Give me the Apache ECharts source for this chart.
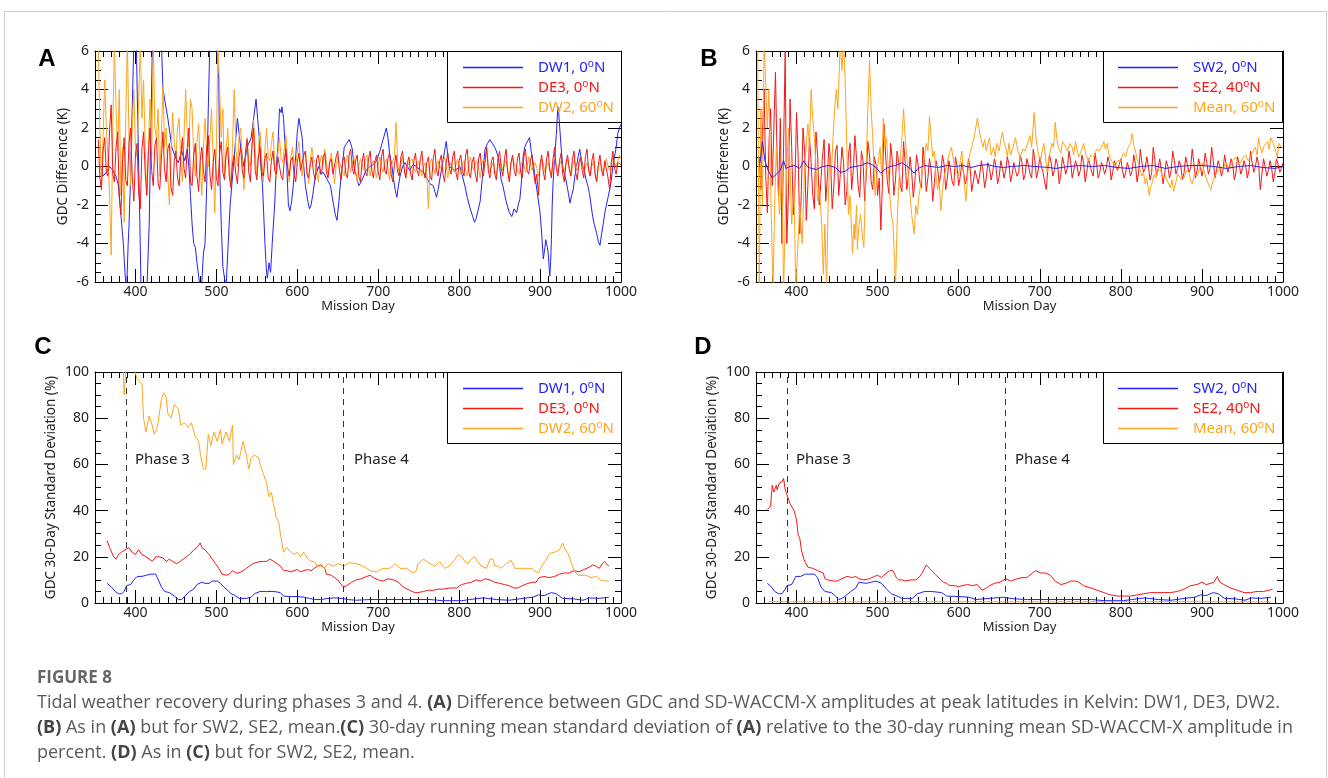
<!DOCTYPE html>
<html>
<head>
<meta charset="utf-8">
<script src="https://cdn.jsdelivr.net/npm/echarts@6/dist/echarts.min.js"></script>
<style>
html, body { margin: 0; padding: 0; background: #fff; }
#chart { width: 1328px; height: 778px; }
</style>
</head>
<body>
<div id="chart"></div>
<script>
// evenly sampled difference series start at day 354, one value every 2 days
var daysStart = 354, daysStep = 2;

// panel A: GDC minus SD-WACCM-X (K)
var diffDE3 = [
	1.4, -0.6, -1.2, 0.8, 1.5, -0.3, -0.5, 1.9, 3.2, -0.4,
	-0.8, 1.0, 1.8, -1.6, -2.5, 0.2, 1.5, -0.7, -1.0, 1.2,
	2.0, -0.5, -1.8, 0.6, 1.2, -1.4, -2.2, 0.9, 1.8, -0.3,
	-1.5, 0.7, 2.0, -0.2, -1.0, 1.1, 1.5, -0.9, -1.2, 0.4,
	1.8, -0.2, -0.8, 0.9, 1.2, -1.1, -1.5, 0.3, 0.8, -0.6,
	-1.0, 0.5, 1.5, -0.1, -0.6, 1.0, 2.0, -0.8, -1.0, 0.6,
	1.2, -0.5, -1.3, 0.3, 1.0, -0.2, -0.8, 0.9, 1.6, -0.4,
	-1.2, 0.2, 0.9, -0.6, -1.0, 0.7, 1.3, -0.3, -0.7, 0.6,
	1.0, -0.5, -1.1, 0.2, 0.6, -0.4, -0.9, 0.5, 1.0, -0.2,
	-0.6, 0.8, 1.4, -0.3, -0.8, 1.1, 2.0, -0.2, -0.7, 0.5,
	1.0, -0.3, -0.5, 0.4, 0.7, -0.6, -0.8, 0.3, 0.8, -0.2,
	-0.4, 0.5, 0.6, -0.5, -0.7, 0.4, 0.9, -0.1, -0.5, 0.3,
	0.5, -0.4, -0.8, 0.2, 0.7, -0.2, -0.3, 0.6, 0.8, -0.4,
	-0.6, 0.1, 0.5, -0.3, -0.7, 0.4, 0.6, -0.1, -0.4, 0.5,
	0.7, -0.3, -0.6, 0.2, 0.4, -0.4, -0.5, 0.5, 0.8, -0.2,
	-0.7, 0.3, 0.5, -0.4, -0.6, 0.6, 0.9, -0.1, -0.4, 0.3,
	0.6, -0.5, -0.8, 0.2, 0.7, -0.3, -0.5, 0.4, 0.8, -0.2,
	-0.6, 0.3, 0.6, -0.3, -0.7, 0.5, 0.9, -0.2, -0.4, 0.4,
	0.7, -0.4, -0.8, 0.1, 0.6, -0.3, -0.5, 0.5, 0.8, -0.1,
	-0.6, 0.2, 0.5, -0.4, -0.7, 0.3, 0.7, -0.2, -0.5, 0.4,
	0.8, -0.3, -0.6, 0.2, 0.5, -0.5, -0.7, 0.4, 0.9, -0.2,
	-0.5, 0.3, 0.6, -0.4, -0.8, 0.2, 0.7, -0.1, -0.4, 0.5,
	0.8, -0.3, -0.7, 0.3, 0.6, -0.2, -0.5, 0.6, 0.9, -0.3,
	-0.6, 0.2, 0.5, -0.4, -0.8, 0.4, 0.7, -0.2, -0.5, 0.3,
	1.0, -0.2, -0.6, 0.3, 0.5, -0.4, -0.7, 0.4, 0.8, -0.1,
	-0.5, 0.4, 0.9, -0.3, -0.8, 0.2, 0.6, -0.2, -0.5, 0.4,
	0.7, -0.3, -0.6, 0.5, 0.9, -0.2, -0.4, 0.3, 0.6, -0.3,
	-0.9, -0.4, -1.5, 0.1, 0.6, -0.3, -0.7, 0.4, 0.8, -0.2,
	-0.6, 0.4, 1.0, -0.1, -0.5, 0.3, 0.7, -0.4, -0.8, 0.2,
	0.6, -0.1, -0.5, 0.4, 0.8, -0.3, -0.7, 0.2, 0.5, -0.2,
	-0.6, 0.5, 0.9, -0.2, -0.5, 0.3, 0.7, -0.4, -0.8, 0.1,
	0.6, -0.2, -0.5, 0.3, 0.4, -0.6, -1.2, 0.2, 0.8, -0.1,
	-0.4, 0.2, 0.3, 0.1];
var diffDW2 = [
	6.5, 2.0, -1.0, 1.5, 4.5, 2.0, 0.5, -1.5, -4.6, 2.0,
	6.5, 3.0, 0.8, 4.0, -1.5, 1.0, -2.9, 2.5, 6.5, 1.5,
	-1.0, 2.0, 4.0, 1.0, 0.5, 3.5, 6.5, 2.5, 4.5, 1.0,
	-1.5, 1.0, 3.5, 0.5, 6.5, 2.0, 1.5, 3.0, -0.5, 1.5,
	4.2, 1.0, 2.0, -0.5, -2.0, 0.8, 2.8, 1.2, 0.5, 2.0,
	2.5, 0.3, -0.8, 1.5, 4.0, 1.8, 1.0, 3.5, 3.0, 0.5,
	-0.5, 1.2, 2.2, 0.2, -1.5, 1.0, 2.5, 0.8, 0.0, 1.5,
	3.0, 0.5, -2.4, 1.0, 6.5, 6.5, 1.5, 3.0, -0.5, 0.8,
	2.0, 0.2, -1.0, 1.2, 4.0, 1.0, 0.0, 1.5, 2.0, 0.4,
	-1.2, 0.6, 1.5, 0.3, 0.0, 1.2, 2.4, 0.8, -0.5, 1.0,
	1.8, 0.4, -0.8, 0.9, 2.0, 0.5, 0.3, 1.2, 1.8, 0.2,
	-0.6, 0.7, 1.5, 0.4, 0.2, 1.0, 1.6, 0.3, -0.8, 0.5,
	1.0, 0.2, 0.0, 0.8, 1.3, 0.1, -0.5, 0.6, 0.8, -0.2,
	-0.9, 0.3, 1.0, 0.4, 0.2, -0.3, -0.8, 0.2, 0.6, 0.1,
	0.9, 0.2, -0.4, 0.3, 0.7, -0.1, -0.9, 0.1, 0.5, 0.2,
	0.2, -0.3, -0.5, 0.2, 0.6, 0.1, -0.3, 0.2, 0.5, -0.2,
	-0.8, 0.0, 0.4, 0.1, -0.2, 0.3, 0.6, -0.1, -0.5, 0.1,
	0.3, -0.2, -0.6, 0.1, 0.5, 0.0, -0.3, 0.2, 0.4, -0.1,
	-0.7, 0.0, 0.3, 0.5, 2.3, 0.2, -0.4, 0.1, 0.5, -0.1,
	-0.6, 0.0, 0.2, 0.3, 0.4, -0.1, -0.3, 0.1, 0.3, -0.2,
	-0.5, 0.0, 0.2, -0.4, -2.2, 0.1, 0.4, 0.0, -0.4, 0.1,
	0.3, -0.1, -0.2, 0.2, 0.5, 0.0, -0.6, 0.0, 0.2, -0.1,
	-0.3, 0.1, 0.4, 0.0, -0.4, 0.1, 0.3, -0.2, -0.5, 0.1,
	0.5, 0.0, -0.2, 0.1, 0.3, -0.1, -0.6, 0.1, 0.4, 0.2,
	0.9, 0.1, -0.3, 0.0, 0.2, -0.2, -0.5, 0.0, 0.4, 0.1,
	-0.2, 0.1, 0.3, -0.2, -0.6, 0.1, 0.5, 0.2, 0.0, -0.1,
	-0.4, 0.0, 0.3, 0.1, -0.3, 0.0, 0.5, 0.1, -0.2, 0.0,
	0.2, -0.1, -0.5, 0.0, 0.4, 0.1, -0.3, 0.0, 0.2, -0.1,
	-0.4, 0.1, 0.5, 0.0, -0.3, 0.1, 0.3, 0.0, -0.2, 0.1,
	0.4, -0.1, -0.5, 0.0, 0.3, 0.1, -0.2, 0.0, 0.4, 0.1,
	-0.3, 0.0, 0.2, 0.1, -0.4, 0.0, 0.3, -0.2, -0.8, 0.0,
	0.2, 0.0, -0.3, 0.1, 0.4, 0.0, -0.2, 0.1, 0.5, 0.2,
	0.0, 0.3, 0.6, 0.4];
var diffDW1 = [[357,0.0],[360,-0.5],[364,-0.3],[368,0.0],[372,-0.2],[376,-0.5],[379,-1.0],[382,-2.5],[385,-4.0],[387,-5.5],[389,-6.5],[391,-4.0],[392,-3.1],[394,-0.5],[396,3.0],[398,6.5],[401,6.5],[403,2.0],[405,-2.0],[407,-6.5],[414,-6.5],[417,-3.0],[419,2.0],[421,6.5],[432,6.5],[434,4.0],[436,3.5],[440,2.5],[445,1.0],[449,0.5],[453,0.2],[457,0.8],[461,0.3],[464,0.9],[466,0.0],[468,-1.5],[470,-3.0],[472,-4.0],[474,-4.2],[476,-5.0],[479,-6.0],[481,-6.5],[482,-6.0],[484,-4.5],[486,-4.0],[488,-1.0],[490,3.0],[492,6.5],[500,6.5],[502,5.0],[503,4.5],[504,0.0],[506,-3.0],[508,-5.2],[510,-5.8],[512,-6.3],[514,-4.5],[517,-2.0],[521,0.0],[524,1.5],[526,2.5],[530,1.0],[534,0.0],[538,1.0],[543,1.5],[546,2.5],[549,3.5],[551,2.5],[553,1.5],[555,0.0],[557,-1.0],[560,-4.0],[562,-5.5],[563,-5.8],[565,-5.0],[567,-5.5],[569,-4.0],[572,-2.0],[574,0.0],[576,1.0],[578,3.0],[580,2.8],[581,3.1],[583,2.5],[585,1.0],[587,0.0],[589,-2.0],[591,-2.3],[593,-1.8],[595,-1.0],[598,0.5],[600,1.8],[602,2.5],[604,2.0],[606,1.5],[608,0.0],[610,-1.0],[613,-1.8],[615,-2.2],[617,-2.0],[619,-1.5],[622,-0.6],[626,0.0],[629,-0.4],[632,-0.3],[636,-0.6],[641,-1.0],[644,-1.8],[647,-2.5],[649,-2.8],[651,-2.0],[653,-1.0],[656,0.2],[658,1.0],[661,1.2],[664,1.4],[666,1.2],[668,0.9],[670,0.0],[673,-0.5],[676,-1.0],[679,-0.8],[682,-0.5],[685,-0.2],[690,0.0],[694,0.1],[698,0.3],[702,0.8],[706,1.4],[710,2.0],[712,1.5],[714,0.7],[717,0.0],[719,-0.7],[721,-1.2],[723,-1.6],[725,-1.0],[727,-0.5],[730,0.0],[733,0.2],[736,0.0],[739,-0.2],[743,0.1],[747,0.0],[752,-0.2],[756,-0.3],[760,-0.6],[764,-0.9],[768,-1.0],[770,-1.3],[772,-1.6],[774,-1.2],[776,-0.7],[778,-0.2],[780,0.3],[782,0.8],[784,1.3],[786,0.6],[788,0.0],[791,-0.1],[795,-0.2],[801,0.0],[804,-0.5],[807,-1.0],[810,-1.6],[813,-2.1],[816,-2.5],[819,-2.9],[821,-2.7],[823,-2.6],[826,-1.8],[828,-0.9],[830,0.0],[832,0.9],[835,1.2],[838,1.4],[841,1.2],[844,1.0],[846,0.8],[848,0.5],[850,0.0],[852,-0.7],[854,-1.0],[856,-1.4],[858,-1.8],[860,-2.1],[862,-2.4],[865,-2.6],[868,-2.2],[871,-2.4],[873,-2.0],[875,-1.7],[877,-0.8],[879,0.5],[881,1.0],[883,1.2],[885,1.3],[887,1.5],[889,0.8],[891,0.3],[893,-0.3],[895,-0.9],[897,-1.5],[900,-2.4],[902,-3.5],[904,-4.8],[906,-4.2],[907,-3.8],[909,-4.2],[910,-4.5],[912,-5.7],[913,-5.0],[914,-3.8],[915,-2.0],[916,-0.9],[918,0.5],[920,1.6],[922,3.1],[923,2.8],[924,2.2],[926,1.0],[928,0.0],[930,-0.4],[932,-0.7],[935,-1.4],[937,-1.9],[939,-1.5],[941,-1.2],[943,-0.5],[945,0.0],[947,0.5],[949,0.9],[951,0.4],[953,0.0],[955,-0.3],[957,-0.7],[959,-1.0],[961,-1.4],[963,-2.0],[965,-2.6],[967,-3.0],[970,-3.5],[972,-3.9],[974,-4.1],[976,-3.5],[978,-3.0],[980,-2.4],[982,-2.0],[984,-1.6],[986,-1.2],[988,-0.7],[990,0.0],[992,0.5],[994,1.0],[996,1.7],[998,2.0],[1000,2.2]];

// panel B
var diffSE2 = [
	0.5, -1.2, 1.8, 4.0, -0.5, -2.4, 1.2, 3.0, -1.0, 2.0,
	4.9, 0.5, -1.5, 2.5, -4.0, 1.0, 6.0, -4.0, -1.5, 3.5,
	1.0, -2.5, -1.0, 2.8, 0.5, -3.5, -1.2, 2.0, 0.8, -2.8,
	-1.0, 1.5, 0.2, -1.5, -2.2, 1.8, 0.6, -2.0, -0.8, 0.5,
	1.4, -1.8, -0.6, 1.2, 0.3, -2.2, -1.0, 0.8, 1.1, -1.5,
	-0.4, 1.0, 0.2, -2.0, -1.3, 0.6, 1.2, -1.2, -0.2, 1.6,
	0.4, -1.0, -1.6, 0.8, 0.3, -1.8, -0.5, 1.3, 0.6, -0.8,
	-1.2, 0.5, 0.1, -1.5, -0.6, -3.3, -0.8, 2.2, 0.5, -0.8,
	-1.4, 1.2, 0.4, -1.5, -0.7, 0.8, 0.2, -1.0, -1.3, 1.3,
	0.2, -1.2, -0.5, 0.5, -0.3, -1.6, -0.8, 0.6, 0.1, -0.8,
	-1.1, 1.0, 0.2, -1.3, -0.6, 0.4, -0.2, -1.8, -0.9, 0.3,
	-0.1, -0.9, -0.4, 0.6, 0.1, -1.2, -0.6, 0.3, -0.2, -0.8,
	-1.0, 0.5, 0.0, -1.0, -0.5, 0.2, -0.3, -0.9, -0.6, 0.4,
	0.0, -1.3, -0.8, -0.2, -0.5, -0.9, -0.4, 0.3, -0.2, -1.1,
	-0.6, 0.2, -0.1, -0.7, -0.3, 0.4, 0.0, -0.9, -0.5, 0.3,
	-0.1, -0.6, -0.2, 0.5, 0.1, -0.8, -0.4, 0.2, -0.2, -0.5,
	-0.3, 0.6, 0.2, -0.7, -0.4, 0.4, 0.1, -0.4, -0.6, 0.9,
	0.3, -0.6, -0.2, 0.5, 0.0, -0.3, -0.8, -1.2, -0.1, 0.6,
	0.2, -0.5, -0.2, 0.4, 0.1, -0.9, -0.4, 0.5, 0.1, -0.4,
	-0.1, 0.8, 0.3, -0.6, -0.2, 0.3, 0.0, -0.5, -0.2, 0.6,
	0.2, -0.8, -0.3, 0.4, 0.1, -0.3, -0.5, 0.7, 0.2, -0.6,
	-0.3, 0.2, 0.0, -0.4, -0.1, 0.5, 0.2, -0.7, -0.3, 0.3,
	0.0, -0.2, 0.1, 0.4, -0.2, -0.6, -0.3, 0.2, -0.1, -0.5,
	-0.2, 0.6, 0.1, -0.8, -0.3, 0.9, 0.2, -0.3, -0.1, 0.5,
	0.0, -0.7, -0.3, 1.0, 0.3, -0.5, -0.1, 0.4, -0.2, -0.9,
	-0.4, 0.3, 0.0, -0.6, -0.2, 0.8, 0.3, -0.4, -0.1, 0.3,
	0.0, -0.7, -0.3, 0.5, 0.1, -0.3, -0.1, 0.9, 0.2, -0.6,
	-0.2, 0.4, 0.0, -0.5, -0.1, 0.7, 0.2, -0.4, -0.1, 1.0,
	0.3, -0.6, -0.2, 0.3, 0.0, -0.5, -0.2, 0.6, 0.1, -0.3,
	0.0, 0.4, 0.1, -0.7, -0.3, 0.5, 0.1, -0.4, -0.1, 0.3,
	0.0, -0.6, -0.2, 0.8, 0.2, -0.3, 0.0, 0.5, 0.1, -1.2,
	-0.4, 0.4, 0.0, -0.5, -0.2, 0.3, -0.1, -0.8, -0.3, 0.4,
	0.1, -0.3, -0.1, 0.2];
var diffSW2 = [[355,0.2],[358,1.3],[361,0.3],[365,-0.2],[370,-0.6],[375,-0.4],[380,-0.2],[384,0.3],[387,-0.1],[392,0.0],[398,0.05],[404,-0.1],[409,0.3],[413,0.0],[418,-0.1],[425,-0.15],[432,0.0],[440,0.05],[448,-0.05],[454,-0.3],[460,-0.25],[466,-0.05],[472,0.0],[480,0.05],[487,0.2],[493,0.1],[499,-0.1],[504,-0.35],[509,-0.15],[515,0.0],[522,0.05],[530,0.2],[535,0.05],[540,-0.1],[545,-0.35],[550,-0.1],[558,0.05],[566,0.0],[575,-0.05],[585,0.05],[595,0.0],[605,0.05],[615,-0.05],[625,0.05],[635,0.1],[645,0.0],[655,-0.05],[665,0.0],[680,0.05],[695,0.0],[710,-0.05],[720,-0.1],[735,0.0],[750,0.05],[765,0.0],[780,0.05],[795,-0.05],[810,-0.1],[825,0.0],[840,0.05],[855,-0.1],[870,0.0],[885,0.05],[900,0.05],[915,0.0],[930,-0.1],[945,0.0],[960,0.05],[975,-0.05],[990,-0.1],[1000,0.0]];
var diffMean = [[352,6.5],[354,-6.5],[356,3],[358,-2],[360,6.5],[362,6.5],[364,2],[366,4],[368,-1],[371,-6.5],[373,-2],[375,1],[377,-1],[379,-2.5],[382,0],[384,-6.5],[387,-1],[390,2],[392,0],[394,-3],[397,-1],[399,-6.5],[401,-6.5],[404,-2],[407,-4],[410,0],[414,2.2],[416,1],[418,4.0],[420,2.5],[422,1.5],[424,0],[426,-1.8],[428,-1],[431,-3],[433,-5.6],[435,-3],[437,-6.5],[439,-2],[441,0.5],[443,-0.5],[445,1.5],[447,3],[449,4.0],[451,3],[454,6.5],[456,5],[458,6.5],[460,4.5],[462,1],[464,-2.5],[466,-1.5],[469,-4.5],[471,-3],[472,-3.8],[474,-2],[475,-4.3],[477,-3],[479,-2.5],[481,-3.5],[483,-4.2],[485,-1],[488,3],[490,5.5],[492,3],[494,1.5],[497,-1.5],[500,0],[503,1],[505,-0.5],[507,2.5],[509,1],[511,1.5],[513,0],[515,-1.5],[517,-2.5],[519,-3],[521,-5],[522,-6.5],[524,-3],[526,-1],[528,0.5],[530,1.5],[532,3],[534,1.5],[536,0.5],[538,-0.5],[540,-1.5],[542,-2.5],[545,-3.5],[547,-2],[549,-2.5],[551,-1.5],[553,-1],[555,-0.2],[558,0.5],[560,1.2],[562,0.8],[564,2.6],[566,1.5],[568,0.5],[570,0.8],[572,-0.5],[574,-1.2],[576,-0.8],[578,-2.3],[580,-1.2],[582,-0.5],[585,0],[588,0.6],[591,1],[594,0.2],[597,-0.3],[600,-0.5],[602,0.3],[604,0.8],[606,-0.5],[609,-1.8],[611,-0.5],[613,0.5],[616,1.0],[619,1.5],[621,2.0],[623,2.5],[625,2.0],[627,1.5],[630,1.0],[632,1.4],[634,0.8],[636,1.2],[638,1.5],[640,0.6],[643,1.0],[645,0.5],[647,1.2],[650,0.8],[652,1.4],[654,1.8],[656,1.2],[658,1.0],[660,0.5],[662,1.2],[664,0.6],[667,1.0],[670,1.5],[673,0.8],[676,0.5],[679,0.9],[682,0.8],[685,1.2],[688,1.6],[690,1.0],[693,2.8],[695,1.6],[697,1.0],[699,0.5],[701,0.3],[703,0.8],[705,1.2],[707,0.5],[709,-0.3],[711,0.4],[713,0.5],[715,1.2],[717,1.0],[719,2.3],[721,1.5],[723,1.0],[726,0.7],[728,1.3],[731,1.1],[734,0.8],[737,1.2],[740,1.0],[742,0.6],[744,1.3],[746,0.9],[748,0.5],[751,0.8],[754,1.2],[757,0.6],[760,0.3],[763,0.6],[767,0.5],[770,0.9],[773,0.8],[776,1.0],[779,1.3],[781,0.9],[783,1.2],[785,0.7],[787,0.4],[790,0.2],[793,0.0],[796,0.3],[800,0.3],[803,0.7],[806,0.5],[808,0.9],[810,0.8],[812,1.2],[814,1.7],[816,1.1],[818,0.8],[820,0.4],[822,0.1],[824,-0.2],[826,-0.5],[828,-0.3],[830,-0.9],[832,-0.6],[835,-1.5],[837,-1.0],[839,-0.8],[841,-0.4],[843,-0.6],[846,-0.2],[849,-0.2],[852,-0.6],[855,-0.5],[858,-0.8],[861,-1.1],[863,-0.7],[865,-1.3],[868,-0.8],[870,-0.4],[872,-0.4],[875,-0.7],[878,-0.6],[881,-0.2],[884,-0.3],[886,-0.7],[888,-0.9],[891,-0.4],[894,-0.5],[897,-0.1],[900,0.2],[903,-0.3],[907,-0.8],[909,-1.0],[911,-1.2],[914,-0.7],[917,-0.4],[920,-0.2],[923,0.0],[926,-0.2],[929,0.2],[932,0.0],[935,-0.1],[938,0.3],[942,0.5],[945,0.1],[948,0.2],[951,0.5],[954,0.6],[957,0.3],[960,0.5],[963,0.8],[966,1.0],[968,0.6],[970,1.5],[972,1.0],[974,0.7],[977,1.1],[981,1.3],[983,0.9],[985,1.5],[988,1.2],[991,0.8],[993,0.5],[995,1.2],[998,1.0],[1000,1.0]];

// panel C: 30-day standard deviation (%)
var stdDW1 = [[365,8.5],[370,7],[375,5],[379,4],[383,4],[386,5],[389,7.5],[394,8],[398,10],[402,11.5],[408,11.5],[413,12],[419,12.5],[425,12.5],[427,11],[432,7],[436,5],[442,4.5],[448,3],[453,1.5],[457,1.5],[461,3],[467,5],[472,6],[476,8],[482,9],[486,8.5],[491,8.5],[495,9.5],[501,9.5],[505,8.5],[509,7],[514,5.5],[518,4],[522,3.5],[528,2],[537,2],[543,2.5],[547,4],[554,5],[562,5],[571,5],[579,4.5],[583,3],[592,2.8],[600,2.8],[608,2.5],[615,2],[621,1.5],[629,1.5],[638,2],[646,2.2],[655,2],[663,1.5],[672,1.2],[690,1.5],[720,1.5],[764,1.5],[780,1.0],[803,1.0],[813,1.5],[830,2.2],[846,1.5],[862,1.2],[879,2],[891,2.5],[898,3.5],[905,3.2],[914,4.5],[920,4],[928,2],[941,1.8],[953,1.2],[961,2.2],[973,2.0],[985,2.5]];
var stdDE3 = [[365,27],[368,24],[373,20],[376,19],[379,21],[383,22],[387,23],[392,24],[396,22],[400,21],[404,23],[408,21],[413,20],[417,19],[421,18],[425,20],[429,20],[434,19.5],[438,18],[442,19],[446,18],[451,17],[455,18],[459,19],[463,20],[467,21],[472,23],[476,24],[480,26],[482,24],[486,23],[491,21],[495,19],[499,17],[503,15],[507,12.5],[512,12],[516,12.5],[520,14],[524,13],[528,13],[533,14],[537,15],[541,16],[545,17],[549,17.5],[554,18],[558,18],[562,18],[566,19],[571,18],[575,17],[579,16],[583,14],[587,14],[592,13.5],[596,14],[600,14.5],[604,13.5],[608,14],[613,14.5],[617,14],[621,15],[625,16],[629,16.5],[634,15],[636,12.5],[642,12],[646,11],[650,10],[653,8.5],[657,7],[661,7.5],[667,9],[673,10],[679,10.5],[686,11.5],[690,12],[694,11],[700,10],[706,9.5],[712,10.5],[719,10],[725,9],[729,7.5],[733,6.5],[739,5.5],[745,4.5],[749,4.5],[756,5],[762,5.5],[768,5.5],[774,6],[780,6],[788,6.5],[797,6.5],[803,8],[809,8.5],[815,9],[821,10],[827,9.5],[832,10.5],[838,10],[844,9],[850,8.5],[856,8],[862,7.5],[868,6.5],[872,6.5],[878,7.5],[885,8.5],[891,9],[895,9],[899,11],[905,11.5],[911,11],[918,11.5],[924,12.5],[930,13],[936,13],[942,14],[948,13.5],[954,14.5],[961,15.5],[965,16.5],[969,16],[973,15],[977,17],[980,18],[983,16.5],[985,16]];
var stdDW2 = [[385,100],[386,90],[388,100],[390,104],[398,102],[402,97],[408,95],[410,80],[413,74],[417,81],[420,78],[423,73],[427,76],[432,88],[435,91],[438,89],[440,82],[444,80],[448,86],[453,84],[456,77],[461,78],[465,76],[469,78],[474,72],[478,70],[481,63],[484,58],[487,58],[490,73],[493,68],[497,74],[501,70],[505,75],[507,69],[512,74],[516,70],[520,77],[521,60],[525,64],[528,62],[533,70],[537,64],[540,58],[543,63],[547,64],[552,63],[554,60],[558,56],[562,52],[565,46],[568,48],[571,42],[574,37],[577,35],[580,28],[583,22],[587,24],[592,22],[596,21],[600,22],[604,20],[608,22],[613,19],[617,18],[621,18],[625,16],[629,16],[634,15],[638,17],[644,16],[651,17],[657,16],[665,17.5],[673,17],[681,16],[690,14],[698,13.5],[706,15],[714,15],[721,17],[727,15],[735,15],[743,13],[747,14],[749,17],[756,19],[760,18],[764,17],[770,16],[776,18],[782,15],[788,16],[795,19],[799,21],[803,20],[807,18],[811,17],[815,19],[819,20],[823,18],[827,16],[834,15],[838,19],[842,19],[844,16],[848,16],[852,15],[858,17],[864,18.5],[869,15],[875,15],[883,15],[889,15],[893,14],[898,13],[902,16],[908,19],[912,21.5],[918,22],[924,23],[928,26],[930,24],[935,21],[939,17],[943,13.5],[947,12],[953,12],[957,12],[963,11],[970,11.5],[974,10],[980,9.5],[985,9.5]];

// panel D
var stdSW2 = [[364,8.5],[369,7],[373,5],[378,4],[382,4],[386,6],[388,7.5],[394,8],[399,11.5],[405,11.5],[411,12.5],[422,12.5],[426,11],[430,7],[435,5],[443,4.5],[448,3],[452,1.5],[456,2],[460,3],[467,5],[473,6.5],[477,9],[486,8.5],[492,9],[498,9.5],[505,8.5],[511,6],[517,4],[524,3],[530,2],[543,2],[549,4],[558,5],[566,5],[579,4.5],[585,3],[600,2.8],[613,2.5],[621,1.5],[638,2],[655,2.5],[668,1.8],[685,1.5],[720,1.5],[764,1.5],[780,1.0],[803,1.0],[813,1.5],[830,2.2],[846,1.5],[862,1.2],[879,2],[891,2.5],[898,3.5],[905,3.2],[914,4.5],[920,4],[928,2],[941,1.8],[953,1.2],[961,2.2],[973,2.0],[985,2.5]];
var stdSE2 = [[364,40.5],[368,42],[370,51],[372,48],[375,51],[376,49],[379,52],[382,52.5],[384,54],[386,49],[388,47],[390,45],[392,43],[397,40],[400,36],[402,29.5],[404,28],[406,23],[409,19],[411,17.5],[414,15.5],[420,15],[426,14],[433,13],[435,10.5],[439,10],[445,9.5],[450,9.5],[456,10.5],[462,11.5],[469,11],[473,11.5],[477,10.5],[483,10],[490,10.5],[496,11.5],[500,12],[505,11],[509,12.5],[515,14],[519,14],[523,11],[526,10],[530,10],[534,9.5],[541,10],[547,10],[551,11],[555,13],[560,16.5],[564,15],[568,13.5],[572,12],[577,10.5],[581,9],[585,8.5],[589,7.5],[596,7.5],[600,7],[604,7.5],[611,8],[617,7.5],[623,8],[629,5.5],[634,6.5],[638,7.5],[644,8.5],[651,9],[658,10.5],[664,9.5],[672,10.5],[678,11],[684,11],[691,13],[695,14],[701,13],[707,13],[713,12],[719,9.5],[726,8],[732,8.5],[738,9.5],[744,9.5],[748,9],[754,7.5],[763,6.5],[771,5.5],[779,4.5],[787,3.5],[796,3],[804,3],[812,3],[820,3.5],[828,4],[837,4.5],[845,4.5],[853,4.5],[861,4.5],[870,5],[878,6],[886,7.5],[894,8],[900,9],[905,8],[911,8.5],[915,9],[919,11.5],[922,9],[927,8],[935,6.5],[944,5.5],[952,4.5],[960,4.5],[968,5],[976,5],[983,5.5],[987,6]];
var stdMean = [[365,0.6],[450,0.5],[550,0.6],[650,0.5],[750,0.5],[850,0.6],[985,0.5]];

var majorDays = [400, 500, 600, 700, 800, 900, 1000];
var phaseDays = [388, 657];
var phaseNames = ['Phase 3', 'Phase 4'];

var BLUE = '#2323f5', RED = '#f51616', ORANGE = '#ffa41c';
var FONT = 'Noto Sans';

function stepped(vals) {
	return vals.map(function (v, i) { return [daysStart + daysStep * i, v]; });
}

var grids = [
	{ left: 95, top: 51, width: 526, height: 231 },
	{ left: 756, top: 51, width: 527, height: 231 },
	{ left: 95, top: 372, width: 526, height: 231 },
	{ left: 756, top: 372, width: 527, height: 231 }
];

var plain = function (v) { return String(v); };

var xAxes = [], yAxes = [];
grids.forEach(function (gr, g) {
	var base = { type: 'value', gridIndex: g, min: 350, max: 1000, splitLine: { show: false } };
	var boxLine = { show: true, onZero: false, lineStyle: { color: '#000', width: 1 } };
	var noLine = { show: false, onZero: false };
	xAxes.push(Object.assign({}, base, {
		position: 'bottom',
		axisLine: boxLine,
		axisTick: { show: true, inside: true, length: 13, customValues: majorDays, lineStyle: { color: '#000' } },
		axisLabel: { show: true, customValues: majorDays, formatter: plain, margin: 3, color: '#222', fontSize: 14, fontFamily: FONT },
		name: 'Mission Day', nameLocation: 'middle', nameGap: 17,
		nameTextStyle: { color: '#222', fontSize: 13, fontFamily: FONT }
	}));
	xAxes.push(Object.assign({}, base, {
		position: 'bottom', interval: 10,
		axisLine: noLine,
		axisTick: { show: true, inside: true, length: 6, lineStyle: { color: '#000' } },
		axisLabel: { show: false }
	}));
	xAxes.push(Object.assign({}, base, {
		position: 'top',
		axisLine: boxLine,
		axisTick: { show: true, inside: true, length: 13, customValues: majorDays, lineStyle: { color: '#000' } },
		axisLabel: { show: false }
	}));
	xAxes.push(Object.assign({}, base, {
		position: 'top', interval: 10,
		axisLine: noLine,
		axisTick: { show: true, inside: true, length: 6, lineStyle: { color: '#000' } },
		axisLabel: { show: false }
	}));

	var diff = g < 2;
	var ybase = {
		type: 'value', gridIndex: g,
		min: diff ? -6 : 0, max: diff ? 6 : 100, interval: diff ? 2 : 20,
		splitLine: { show: false },
		axisLine: boxLine,
		axisTick: { show: true, inside: true, length: 13, lineStyle: { color: '#000' } },
		minorTick: { show: true, splitNumber: 4, length: 6, lineStyle: { color: '#000' } }
	};
	yAxes.push(Object.assign({}, ybase, {
		position: 'left',
		axisLabel: { show: true, margin: 6, color: '#222', fontSize: 14, fontFamily: FONT },
		name: diff ? 'GDC Difference (K)' : 'GDC 30-Day Standard Deviation (%)',
		nameLocation: 'middle', nameGap: diff ? 25 : 37,
		nameTextStyle: { color: '#222', fontSize: 13.5, fontFamily: FONT }
	}));
	yAxes.push(Object.assign({}, ybase, {
		position: 'right',
		axisLabel: { show: false }
	}));
});

function line(name, data, g, color, extra) {
	return Object.assign({
		name: name, type: 'line', data: data,
		xAxisIndex: 4 * g, yAxisIndex: 2 * g,
		showSymbol: false, symbol: 'none',
		color: color, lineStyle: { width: 1, color: color },
		animation: false, silent: true
	}, extra || {});
}

function phaseMarks() {
	return {
		markLine: {
			silent: true, symbol: ['none', 'none'], animation: false,
			label: { show: false },
			lineStyle: { type: [6, 5], color: '#333', width: 1 },
			data: phaseDays.map(function (d) { return { xAxis: d }; })
		}
	};
}

var N = {
	dw1: 'DW1, 0°N', de3: 'DE3, 0°N', dw2: 'DW2, 60°N',
	sw2: 'SW2, 0°N', se2: 'SE2, 40°N', mean: 'Mean, 60°N'
};
var nameColor = {};
nameColor[N.dw1] = 'b'; nameColor[N.sw2] = 'b';
nameColor[N.de3] = 'r'; nameColor[N.se2] = 'r';
nameColor[N.dw2] = 'o'; nameColor[N.mean] = 'o';
var colorOf = { b: BLUE, r: RED, o: ORANGE };

var series = [
	line(N.dw1, diffDW1, 0, BLUE),
	line(N.dw2, stepped(diffDW2), 0, ORANGE),
	line(N.de3, stepped(diffDE3), 0, RED),
	line(N.se2, stepped(diffSE2), 1, RED),
	line(N.mean, diffMean, 1, ORANGE),
	line(N.sw2, diffSW2, 1, BLUE),
	line(N.dw1, stdDW1, 2, BLUE, phaseMarks()),
	line(N.de3, stdDE3, 2, RED),
	line(N.dw2, stdDW2, 2, ORANGE),
	line(N.sw2, stdSW2, 3, BLUE, phaseMarks()),
	line(N.se2, stdSE2, 3, RED),
	line(N.mean, stdMean, 3, ORANGE)
];

function legendAt(names, left, top) {
	return {
		data: names.map(function (n) { return { name: n, textStyle: { color: colorOf[nameColor[n]] } }; }),
		orient: 'vertical', left: left, top: top, padding: 0, z: 8,
		icon: 'rect', itemWidth: 60, itemHeight: 1.5, itemGap: 3,
		selectedMode: false,
		formatter: function (n) { return n.replace('°', '{s' + nameColor[n] + '|o}'); },
		textStyle: {
			fontSize: 15, lineHeight: 17, fontFamily: FONT, padding: [0, 0, 0, 10],
			rich: {
				sb: { color: BLUE, fontSize: 10, lineHeight: 10, verticalAlign: 'top', fontFamily: FONT },
				sr: { color: RED, fontSize: 10, lineHeight: 10, verticalAlign: 'top', fontFamily: FONT },
				so: { color: ORANGE, fontSize: 10, lineHeight: 10, verticalAlign: 'top', fontFamily: FONT }
			}
		}
	};
}

var legends = [
	legendAt([N.dw1, N.de3, N.dw2], 463, 59),
	legendAt([N.sw2, N.se2, N.mean], 1118, 59),
	legendAt([N.dw1, N.de3, N.dw2], 463, 380),
	legendAt([N.sw2, N.se2, N.mean], 1118, 380)
];

var graphics = [
	{ type: 'rect', shape: { x: 4.5, y: 11.5, width: 1322, height: 800 }, style: { fill: 'none', stroke: '#cfcfcf', lineWidth: 1 }, silent: true, z: 0 }
];
[[447.5, 51.5, 174], [1103.5, 51.5, 179], [447.5, 372.5, 174], [1103.5, 372.5, 179]].forEach(function (b) {
	graphics.push({ type: 'rect', shape: { x: b[0], y: b[1], width: b[2], height: 71 }, style: { fill: '#fff', stroke: '#000', lineWidth: 1 }, z: 3, silent: true });
});
[['A', 47, 59], ['B', 709, 59], ['C', 43, 347], ['D', 703, 347]].forEach(function (p) {
	graphics.push({ type: 'text', z: 10, style: { text: p[0], x: p[1], y: p[2], align: 'center', verticalAlign: 'middle', font: 'bold 24px "Liberation Sans", Arial, sans-serif', fill: '#000' } });
});
[[135, 354], [796, 1015]].forEach(function (xs) {
	xs.forEach(function (x, i) {
		graphics.push({ type: 'text', z: 10, style: { text: phaseNames[i], x: x, y: 460, verticalAlign: 'middle', font: '15px "Noto Sans"', fill: '#222' } });
	});
});

var capRich = { b: { fontWeight: 'bold', fontSize: 18, fontFamily: 'Open Sans', fill: '#444' } };
var capLines = [
	'Tidal weather recovery during phases 3 and 4. {b|(A)} Difference between GDC and SD-WACCM-X amplitudes at peak latitudes in Kelvin: DW1, DE3, DW2.',
	'{b|(B)} As in {b|(A)} but for SW2, SE2, mean.{b|(C)} 30-day running mean standard deviation of {b|(A)} relative to the 30-day running mean SD-WACCM-X amplitude in',
	'percent. {b|(D)} As in {b|(C)} but for SW2, SE2, mean.'
];
graphics.push({ type: 'text', style: { text: 'FIGURE 8', x: 37, y: 678, verticalAlign: 'middle', font: 'bold 17px "Open Sans"', fill: '#666' } });
capLines.forEach(function (t, i) {
	graphics.push({ type: 'text', style: { text: t, x: 37, y: 703 + 25 * i, verticalAlign: 'middle', font: '18px "Open Sans"', fill: '#5a5a5a', rich: capRich } });
});

var chart = echarts.init(document.getElementById('chart'));
chart.setOption({
	animation: false,
	backgroundColor: '#fff',
	grid: grids,
	xAxis: xAxes,
	yAxis: yAxes,
	legend: legends,
	series: series,
	graphic: graphics
});
</script>
</body>
</html>
